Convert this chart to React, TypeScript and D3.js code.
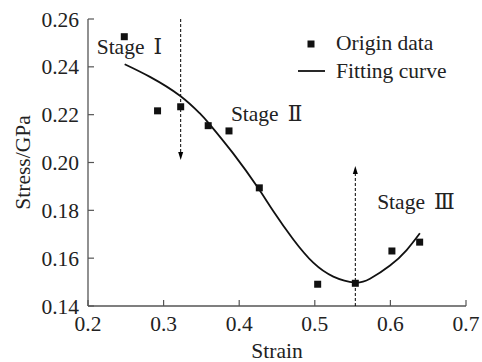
import * as d3 from "d3";

// measured points
const strain = [0.248, 0.292, 0.3226, 0.359, 0.3865, 0.4266, 0.5038, 0.5536, 0.602, 0.6387];
const stress = [0.2526, 0.2216, 0.2233, 0.2154, 0.2132, 0.1894, 0.1491, 0.1495, 0.163, 0.1667];

// fitting curve
const fitStrain = [0.2485, 0.282, 0.3217, 0.348, 0.359, 0.392, 0.4253, 0.445, 0.4716, 0.498, 0.5245, 0.553, 0.573, 0.5995, 0.6215, 0.639];
const fitStress = [0.2411, 0.2358, 0.2279, 0.2205, 0.2167, 0.2038, 0.1892, 0.1797, 0.1678, 0.1581, 0.1523, 0.1498, 0.1514, 0.1569, 0.1634, 0.1704];

const xTicks = [0.2, 0.3, 0.4, 0.5, 0.6, 0.7];
const yTicks = [0.14, 0.16, 0.18, 0.2, 0.22, 0.24, 0.26];

const stages = [
  {word: "Stage", num: "Ⅰ", x: 0.2115, y: 0.2453},
  {word: "Stage", num: "Ⅱ", x: 0.389, y: 0.2175},
  {word: "Stage", num: "Ⅲ", x: 0.5825, y: 0.1807},
];

const font = "'Liberation Serif', 'Times New Roman', serif";
const numFont = "'DejaVu Serif', 'Noto Sans CJK SC', serif";
const fs = 21.5;

export default function App() {
  const width = 482, height = 362;
  const margin = {top: 19, right: 16, bottom: 56, left: 88};

  const x = d3.scaleLinear().domain([0.2, 0.7]).range([margin.left, width - margin.right]);
  const y = d3.scaleLinear().domain([0.14, 0.26]).range([height - margin.bottom, margin.top]);

  const pts: [number, number][] = fitStrain.map((s, i) => [s, fitStress[i]]);
  const line = d3.line<[number, number]>()
    .x(d => x(d[0]))
    .y(d => y(d[1]))
    .curve(d3.curveNatural);

  const axisColor = "#555";
  const x0 = x(0.2), y0 = y(0.14);

  // dashed arrows at the stage boundaries
  const ax1 = x(0.3226), ax2 = x(0.5536);
  const tip1 = 160, tip2 = 166;

  return (
    <div style={{position: "absolute", left: 0, top: 0}}>
      <svg width={width} height={height} style={{display: "block", background: "#fff"}}>
        {/* axes */}
        <line x1={x0} y1={y0} x2={x(0.7)} y2={y0} stroke={axisColor} strokeWidth={1.3} />
        <line x1={x0} y1={y0} x2={x0} y2={y(0.26)} stroke={axisColor} strokeWidth={1.3} />
        {xTicks.map(t => (
          <g key={"x" + t}>
            <line x1={x(t)} x2={x(t)} y1={y0} y2={y0 - 6} stroke={axisColor} strokeWidth={1.2} />
            <text x={x(t)} y={y0 + 25} textAnchor="middle" fontFamily={font} fontSize={fs} fill="#222">{t.toFixed(1)}</text>
          </g>
        ))}
        {yTicks.map(t => (
          <g key={"y" + t}>
            <line x1={x0} x2={x0 + 6} y1={y(t)} y2={y(t)} stroke={axisColor} strokeWidth={1.2} />
            <text x={x0 - 9} y={y(t)} dy="0.35em" textAnchor="end" fontFamily={font} fontSize={fs} fill="#222">{t.toFixed(2)}</text>
          </g>
        ))}
        <text x={(x0 + x(0.7)) / 2} y={358} textAnchor="middle" fontFamily={font} fontSize={fs} fill="#222">Strain</text>
        <text transform={`translate(30,${(y0 + y(0.26)) / 2}) rotate(-90)`} textAnchor="middle" fontFamily={font} fontSize={fs} fill="#222">Stress/GPa</text>

        {/* dashed arrows */}
        <line x1={ax1} x2={ax1} y1={y(0.26)} y2={tip1 - 6} stroke="#000" strokeWidth={1} strokeDasharray="3,2" />
        <path d={`M${ax1 - 2.5},${tip1 - 8} L${ax1 + 2.5},${tip1 - 8} L${ax1},${tip1} Z`} fill="#000" />
        <line x1={ax2} x2={ax2} y1={y0} y2={tip2 + 6} stroke="#000" strokeWidth={1} strokeDasharray="3,2" />
        <path d={`M${ax2 - 2.5},${tip2 + 8} L${ax2 + 2.5},${tip2 + 8} L${ax2},${tip2} Z`} fill="#000" />

        {/* fitting curve */}
        <path d={line(pts) ?? ""} fill="none" stroke="#111" strokeWidth={1.8} />

        {/* origin data */}
        {strain.map((s, i) => (
          <rect key={i} x={x(s) - 3.5} y={y(stress[i]) - 3.5} width={7} height={7} fill="#111" />
        ))}

        {/* stage labels */}
        {stages.map(s => (
          <text key={s.num} x={x(s.x)} y={y(s.y)} fontFamily={font} fontSize={fs} fill="#222">
            {s.word}
            <tspan dx={9} fontFamily={numFont} fontWeight={400}>{s.num}</tspan>
          </text>
        ))}

        {/* legend */}
        <rect x={311 - 3.5} y={44 - 3.5} width={7} height={7} fill="#111" />
        <text x={336} y={50} fontFamily={font} fontSize={fs} fill="#222">Origin data</text>
        <line x1={298} x2={325} y1={71} y2={71} stroke="#111" strokeWidth={1.8} />
        <text x={336} y={78} fontFamily={font} fontSize={fs} fill="#222">Fitting curve</text>
      </svg>
    </div>
  );
}
